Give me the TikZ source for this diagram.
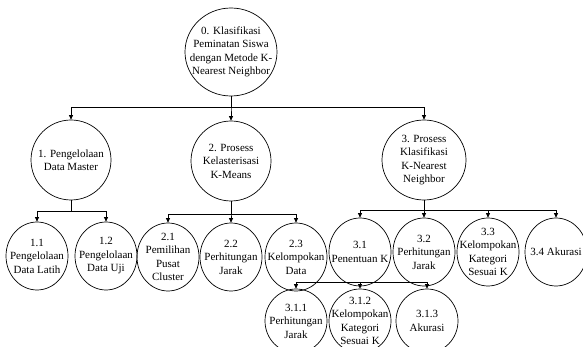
\documentclass[tikz,border=0pt]{standalone}
\usepackage{fontspec}
\setmainfont{Liberation Serif}
\usetikzlibrary{shapes.geometric,arrows.meta}
\begin{document}
\begin{tikzpicture}[x=1pt,y=-1pt,
  proc/.style={draw, ellipse, line width=0.7pt, inner sep=0pt},
  toplevel/.style={proc, minimum width=92pt, minimum height=88pt},
  midlevel/.style={proc, minimum width=80pt, minimum height=80pt},
  lowlevel/.style={proc, minimum width=62pt, minimum height=68pt},
  txt/.style={align=center, font=\fontsize{11}{13.5}\selectfont, inner sep=0pt},
  link/.style={line width=0.8pt, -{Triangle[length=4.5pt,width=4pt]}},
]
\useasboundingbox (0,0) rectangle (583,347);

% root process
\node[toplevel, label={[txt]center:0. Klasifikasi\\Peminatan Siswa\\dengan Metode K-\\Nearest Neighbor}] (n0) at (231,52) {};

% first level
\node[midlevel, label={[txt]center:1. Pengelolaan\\Data Master}] (n1) at (71,160) {};
\node[midlevel, label={[txt]center:2. Prosess\\Kelasterisasi\\K-Means}] (n2) at (231,161) {};
\node[midlevel, minimum width=84pt, label={[txt]center:3. Prosess\\Klasifikasi\\K-Nearest\\Neighbor}] (n3) at (424,160) {};

% second level
\node[lowlevel, label={[txt]center:1.1\\Pengelolaan\\Data Latih}] (n11) at (37,256) {};
\node[lowlevel, label={[txt]center:1.2\\Pengelolaan\\Data Uji}] (n12) at (106,256) {};
\node[lowlevel, label={[txt]center:2.1\\Pemilihan\\Pusat\\Cluster}] (n21) at (168,257) {};
\node[lowlevel, label={[txt]center:2.2\\Perhitungan\\Jarak}] (n22) at (231,257) {};
\node[lowlevel, label={[txt]center:2.3\\Kelompokan\\Data}] (n23) at (296,257) {};
\node[lowlevel, label={[txt]center:3.1\\Penentuan K}] (n31) at (360,252) {};
\node[lowlevel, label={[txt]center:3.2\\Perhitungan\\Jarak}] (n32) at (424,252) {};
\node[lowlevel, label={[txt]center:3.3\\Kelompokan\\Kategori\\Sesuai K}] (n33) at (488,252) {};
\node[lowlevel, label={[txt]center:3.4 Akurasi}] (n34) at (556,252) {};

% third level
\node[lowlevel, minimum height=64pt, label={[txt]center:3.1.1\\Perhitungan\\Jarak}] (n311) at (296,321) {};
\node[lowlevel, minimum height=64pt, label={[txt]center:3.1.2\\Kelompokan\\Kategori\\Sesuai K}] (n312) at (360,321) {};
\node[lowlevel, minimum height=64pt, label={[txt]center:3.1.3\\Akurasi}] (n313) at (427,321) {};

% branching points
\coordinate (b0) at (231,107);
\coordinate (b1) at (71,211);
\coordinate (b2) at (231,214);
\coordinate (b3) at (424,210);
\coordinate (b31) at (360,282);

% connectors
\foreach \c in {n1,n2,n3} \draw[link] (n0.south) -- (b0) -| (\c.north);
\foreach \c in {n11,n12} \draw[link] (n1.south) -- (b1) -| (\c.north);
\foreach \c in {n21,n22,n23} \draw[link] (n2.south) -- (b2) -| (\c.north);
\foreach \c in {n31,n32,n33,n34} \draw[link] (n3.south) -- (b3) -| (\c.north);
\foreach \c in {n311,n312,n313} \draw[link] (n31.south) -- (b31) -| (\c.north);
\end{tikzpicture}
\end{document}
